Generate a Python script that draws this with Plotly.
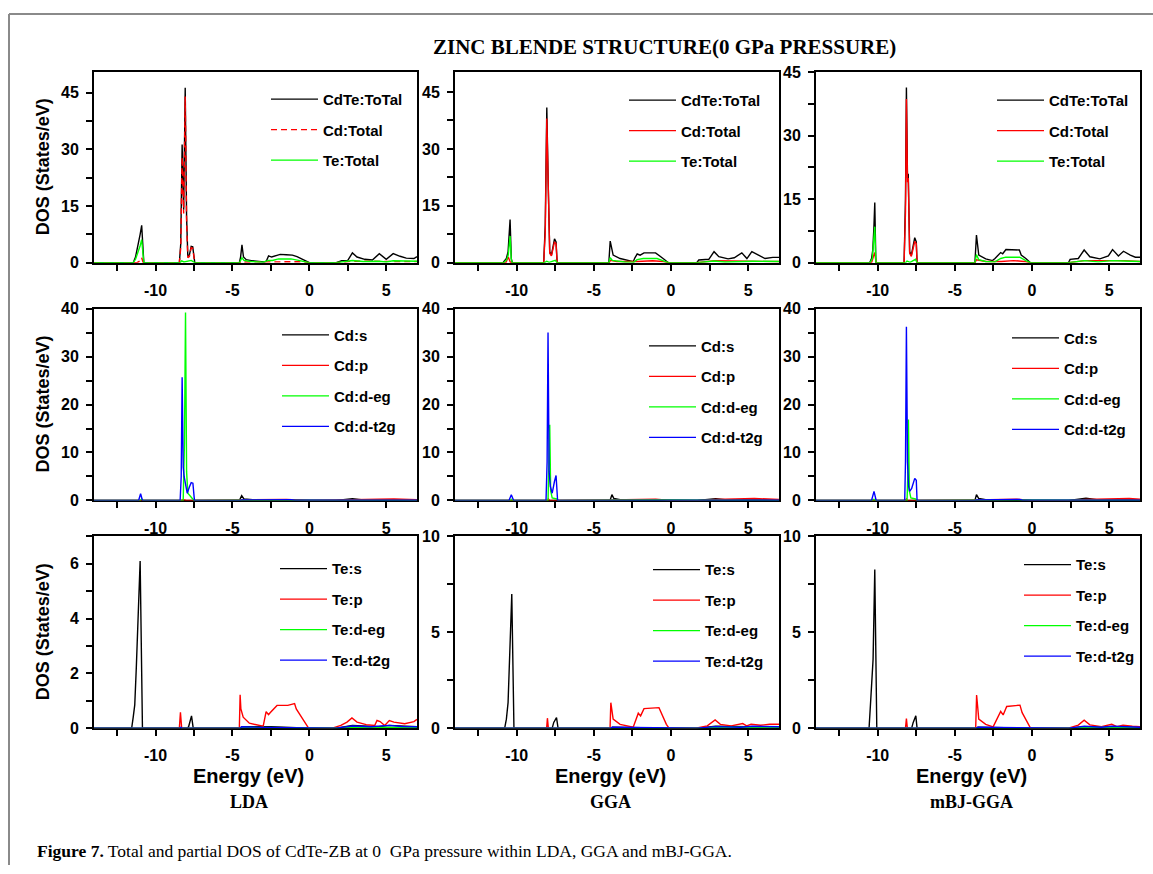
import plotly.graph_objects as go

# ---------------- data: (energy eV, DOS states/eV) ----------------
# LDA
LDA_TOT = [(-14, 0), (-11.45, 0), (-11.3, 1.5), (-11.15, 4.2), (-11.0, 7.5), (-10.9, 9.9), (-10.83, 2.5), (-10.76, 0),
           (-8.45, 0), (-8.36, 5), (-8.27, 31.3), (-8.17, 14), (-8.07, 46.3), (-7.98, 12), (-7.9, 1.7), (-7.8, 2.0),
           (-7.68, 4.3), (-7.58, 4.2), (-7.45, 0), (-4.55, 0), (-4.47, 1.5), (-4.38, 4.7), (-4.28, 1.5), (-4.1, 0.8),
           (-3.7, 0.5), (-3.2, 0.4), (-2.95, 0.2), (-2.8, 0.4), (-2.65, 1.8), (-2.45, 1.5), (-2.2, 1.9), (-1.9, 2.2),
           (-1.5, 2.1), (-1.1, 2.0), (-0.8, 1.6), (-0.5, 1.0), (-0.2, 0.3), (0, 0), (1.75, 0), (2.1, 0.5), (2.5, 0.6),
           (2.8, 2.6), (3.1, 1.5), (3.6, 0.9), (4.1, 0.7), (4.55, 2.4), (5.0, 0.9), (5.45, 2.4), (5.9, 1.7), (6.3, 1.2),
           (6.8, 1.1), (7.0, 1.6)]
LDA_CD = [(-14, 0), (-11.2, 0), (-11.0, 0.5), (-10.9, 1.3), (-10.8, 0), (-8.45, 0), (-8.36, 4), (-8.27, 28),
          (-8.17, 13), (-8.07, 44), (-7.98, 11), (-7.9, 1.3), (-7.8, 1.6), (-7.68, 4.0), (-7.58, 3.8), (-7.45, 0),
          (-4.5, 0), (-4.38, 0.4), (-4.2, 0.2), (-2.7, 0.15), (-1.5, 0.3), (-0.5, 0.25), (0, 0), (1.75, 0), (2.8, 0.4),
          (4.5, 0.3), (5.45, 0.4), (7.0, 0.3)]
LDA_TE = [(-14, 0), (-11.45, 0), (-11.3, 0.9), (-11.15, 2.5), (-11.0, 4.5), (-10.9, 6.1), (-10.83, 1.5), (-10.76, 0),
          (-8.4, 0), (-8.3, 0.5), (-8.15, 0.2), (-7.68, 0.6), (-7.45, 0), (-4.55, 0), (-4.38, 1.3), (-4.25, 0.6),
          (-3.8, 0.3), (-3.0, 0.15), (-2.65, 0.6), (-2.4, 0.6), (-2.0, 1.0), (-1.2, 1.0), (-0.7, 0.6), (-0.2, 0.1),
          (0, 0), (1.75, 0), (2.8, 0.6), (3.5, 0.3), (4.55, 0.4), (5.0, 0.2), (5.45, 0.5), (7.0, 0.4)]
LDA_CD_S = [(-14, 0), (-11.0, 0), (-10.9, 0.15), (-10.8, 0), (-4.55, 0), (-4.4, 1.0), (-4.25, 0.3), (-3.5, 0.1),
            (-0.5, 0.05), (0, 0), (1.75, 0), (2.8, 0.35), (3.5, 0.1), (7.0, 0.1)]
LDA_CD_P = [(-14, 0), (-8.3, 0), (-8.2, 0.2), (-8.0, 0), (-4.4, 0.1), (-2.7, 0.1), (-1.5, 0.2), (0, 0), (1.75, 0),
            (2.8, 0.15), (4.5, 0.25), (5.5, 0.3), (7.0, 0.15)]
LDA_CD_EG = [(-14, 0), (-11.0, 0), (-10.9, 0.3), (-10.8, 0), (-8.2, 0), (-8.12, 12), (-8.05, 39.2), (-7.98, 6),
             (-7.9, 1.5), (-7.7, 0.8), (-7.5, 0), (-4.4, 0.05), (7.0, 0)]
LDA_CD_T2G = [(-14, 0), (-11.1, 0), (-10.97, 1.4), (-10.85, 0), (-8.4, 0), (-8.33, 5), (-8.27, 25.7), (-8.2, 7),
              (-8.14, 5.0), (-8.05, 3), (-7.94, 1.5), (-7.8, 2.8), (-7.68, 3.7), (-7.57, 3.6), (-7.47, 0), (-4.5, 0),
              (-4.4, 0.1), (-1.2, 0.15), (-0.9, 0.05), (7.0, 0.05)]
LDA_TE_S = [(-14, 0), (-11.55, 0), (-11.45, 0.4), (-11.35, 0.85), (-11.25, 2.2), (-11.0, 6.1), (-10.85, 0),
            (-7.95, 0), (-7.85, 0.05), (-7.75, 0.25), (-7.66, 0.45), (-7.55, 0), (-4.5, 0), (-4.4, 0.05),
            (-2.5, 0.05), (0, 0), (1.75, 0), (2.8, 0.1), (4.5, 0.05), (5.2, 0.1), (7.0, 0.05)]
LDA_TE_P = [(-14, 0), (-8.45, 0), (-8.38, 0.58), (-8.3, 0), (-4.55, 0), (-4.5, 1.22), (-4.45, 0.7), (-4.3, 0.4),
            (-3.9, 0.18), (-3.0, 0.07), (-2.81, 0.6), (-2.65, 0.49), (-2.55, 0.56), (-2.1, 0.83), (-1.4, 0.83),
            (-0.96, 0.9), (-0.85, 0.7), (-0.52, 0.4), (-0.2, 0.16), (-0.05, 0), (1.5, 0), (2.05, 0.1), (2.45, 0.22),
            (2.77, 0.37), (3.1, 0.22), (3.7, 0.13), (4.25, 0.1), (4.4, 0.28), (4.6, 0.24), (4.9, 0.1), (5.2, 0.28),
            (5.5, 0.22), (6.2, 0.16), (6.8, 0.24), (7.0, 0.32)]
LDA_TE_EG = [(-14, 0), (-4.5, 0), (-4.4, 0.03), (0, 0), (1.75, 0), (2.8, 0.04), (5.0, 0.03), (7.0, 0.02)]
LDA_TE_T2G = [(-14, 0), (-8.4, 0), (-8.35, 0.03), (-8.3, 0), (-4.5, 0), (-4.4, 0.05), (-3.0, 0.03), (0, 0),
              (1.75, 0), (2.8, 0.08), (4.0, 0.05), (5.2, 0.1), (6.0, 0.06), (7.0, 0.05)]

# GGA
GGA_TOT = [(-14, 0), (-10.89, 0), (-10.67, 1.1), (-10.56, 2.9), (-10.43, 11.4), (-10.35, 1.1), (-10.29, 0),
           (-8.25, 0), (-8.15, 10), (-8.05, 40.9), (-7.96, 21), (-7.86, 2.9), (-7.75, 2.0), (-7.55, 6.3),
           (-7.45, 5.5), (-7.38, 0), (-4.03, 0), (-3.94, 5.7), (-3.75, 2.0), (-3.3, 1.1), (-2.65, 0.5),
           (-2.45, 0.26), (-2.34, 1.3), (-2.19, 2.3), (-2.0, 2.0), (-1.75, 2.6), (-1.0, 2.6), (-0.78, 2.0),
           (-0.45, 0.9), (-0.17, 0), (1.67, 0), (1.8, 0.7), (2.45, 0.9), (2.79, 2.9), (3.1, 1.6), (3.7, 1.0),
           (4.1, 1.3), (4.59, 2.6), (4.92, 1.1), (5.24, 2.9), (5.7, 2.0), (6.1, 1.1), (6.6, 1.4), (7.0, 1.4)]
GGA_CD = [(-14, 0), (-10.7, 0), (-10.55, 1.5), (-10.4, 0), (-8.25, 0), (-8.15, 8), (-8.05, 38), (-7.96, 19),
          (-7.86, 2.5), (-7.75, 1.8), (-7.55, 5.5), (-7.45, 5.0), (-7.38, 0), (-4.0, 0), (-3.94, 0.6), (-3.5, 0.3),
          (-2.2, 0.3), (-1.2, 0.5), (-0.5, 0.3), (-0.15, 0), (1.67, 0), (2.8, 0.5), (4.6, 0.4), (5.3, 0.5), (7.0, 0.3)]
GGA_TE = [(-14, 0), (-10.85, 0), (-10.65, 0.8), (-10.55, 2.0), (-10.43, 7.0), (-10.35, 0.8), (-10.29, 0),
          (-8.2, 0), (-8.05, 0.4), (-7.9, 0.1), (-7.5, 0.6), (-7.38, 0), (-4.03, 0), (-3.94, 1.3), (-3.8, 0.6),
          (-3.0, 0.2), (-2.4, 0.15), (-2.2, 0.8), (-1.8, 1.1), (-0.9, 1.1), (-0.5, 0.5), (-0.15, 0), (1.67, 0),
          (2.8, 0.45), (3.5, 0.2), (4.6, 0.3), (5.3, 0.4), (7.0, 0.3)]
GGA_CD_S = [(-14, 0), (-10.5, 0), (-10.4, 0.15), (-10.3, 0), (-3.95, 0), (-3.83, 1.2), (-3.7, 0.4), (-3.3, 0.15),
            (-0.5, 0.05), (0, 0), (1.7, 0), (2.9, 0.35), (3.5, 0.15), (7.0, 0.1)]
GGA_CD_P = [(-14, 0), (-8.0, 0), (-7.95, 0.3), (-7.85, 0), (-3.9, 0.1), (-2.3, 0.15), (-1.0, 0.25), (0, 0),
            (1.7, 0), (2.9, 0.2), (4.6, 0.3), (5.4, 0.4), (7.0, 0.2)]
GGA_CD_EG = [(-14, 0), (-10.4, 0), (-10.35, 0.2), (-10.3, 0), (-7.97, 0), (-7.92, 6), (-7.86, 15.8), (-7.8, 2),
             (-7.7, 0.5), (-7.4, 0.3), (-7.3, 0), (-0.9, 0.1), (7.0, 0)]
GGA_CD_T2G = [(-14, 0), (-10.5, 0), (-10.35, 1.2), (-10.2, 0), (-8.1, 0), (-8.03, 8), (-7.97, 35.0), (-7.9, 6),
              (-7.82, 2.9), (-7.7, 1.5), (-7.55, 4.0), (-7.45, 5.2), (-7.35, 0), (-3.9, 0), (-3.83, 0.1),
              (-0.9, 0.15), (7.0, 0.05)]
GGA_TE_S = [(-14, 0), (-10.78, 0), (-10.67, 0.47), (-10.56, 1.33), (-10.32, 7.0), (-10.18, 0), (-7.7, 0),
            (-7.6, 0.3), (-7.42, 0.55), (-7.32, 0), (-3.9, 0), (-3.8, 0.05), (0, 0), (1.7, 0), (2.9, 0.1), (7.0, 0.05)]
GGA_TE_P = [(-14, 0), (-8.06, 0), (-8.01, 0.52), (-7.95, 0), (-3.95, 0), (-3.9, 1.33), (-3.75, 0.47), (-3.3, 0.2),
            (-2.45, 0.05), (-2.12, 0.78), (-1.97, 0.64), (-1.75, 1.02), (-0.78, 1.07), (-0.55, 0.64), (-0.3, 0.2),
            (-0.13, 0), (1.6, 0), (2.35, 0.12), (2.86, 0.43), (3.2, 0.2), (3.9, 0.12), (4.65, 0.24), (4.9, 0.12),
            (5.19, 0.2), (5.8, 0.15), (6.4, 0.2), (7.0, 0.2)]
GGA_TE_EG = [(-14, 0), (-3.9, 0), (-3.8, 0.03), (0, 0), (1.7, 0), (2.9, 0.05), (7.0, 0.05)]
GGA_TE_T2G = [(-14, 0), (-3.9, 0), (-3.8, 0.05), (0, 0), (1.7, 0), (2.9, 0.08), (4.5, 0.05), (5.3, 0.1), (7.0, 0.07)]

# mBJ-GGA
MBJ_TOT = [(-14, 0), (-10.52, 0), (-10.4, 1.0), (-10.32, 3), (-10.25, 8.1), (-10.19, 14.2), (-10.12, 0),
           (-8.29, 0), (-8.2, 15), (-8.14, 41.3), (-8.07, 20), (-8.02, 21), (-7.93, 2.6), (-7.82, 1.8), (-7.6, 5.9),
           (-7.5, 4.9), (-7.45, 0), (-3.7, 0), (-3.6, 6.5), (-3.45, 1.8), (-3.0, 0.9), (-2.56, 0.5), (-2.4, 1.0),
           (-2.03, 2.4), (-1.9, 2.1), (-1.69, 3.1), (-0.82, 3.0), (-0.7, 1.8), (-0.4, 1.0), (-0.1, 0), (2.36, 0),
           (2.47, 0.8), (3.0, 1.0), (3.38, 3.0), (3.75, 1.4), (4.4, 0.9), (4.95, 1.6), (5.22, 3.1), (5.6, 1.6),
           (5.93, 2.7), (6.37, 1.8), (6.7, 1.3), (7.0, 1.3)]
MBJ_CD = [(-14, 0), (-10.4, 0), (-10.2, 2.4), (-10.1, 0), (-8.29, 0), (-8.2, 12), (-8.14, 38.6), (-8.07, 19),
          (-8.02, 20), (-7.93, 2.2), (-7.82, 1.5), (-7.6, 5.0), (-7.5, 4.5), (-7.45, 0), (-3.7, 0), (-3.6, 0.7),
          (-3.0, 0.3), (-2.0, 0.3), (-1.2, 0.5), (-0.5, 0.3), (-0.1, 0), (2.36, 0), (3.4, 0.5), (5.2, 0.5),
          (6.0, 0.5), (7.0, 0.3)]
MBJ_TE = [(-14, 0), (-10.5, 0), (-10.35, 1.0), (-10.25, 5), (-10.19, 8.5), (-10.12, 0), (-8.2, 0), (-8.1, 0.4),
          (-7.9, 0.1), (-7.55, 0.8), (-7.45, 0), (-3.7, 0), (-3.6, 1.9), (-3.45, 0.7), (-3.0, 0.3), (-2.4, 0.2),
          (-2.03, 1.0), (-1.7, 1.3), (-0.8, 1.3), (-0.4, 0.5), (-0.1, 0), (2.36, 0), (3.4, 0.5), (4.3, 0.2),
          (5.2, 0.5), (5.9, 0.4), (7.0, 0.3)]
MBJ_CD_S = [(-14, 0), (-10.35, 0), (-10.24, 0.2), (-10.1, 0), (-3.7, 0), (-3.6, 1.2), (-3.45, 0.4), (-3.0, 0.15),
            (-0.5, 0.05), (0, 0), (2.4, 0), (3.5, 0.45), (4.2, 0.15), (7.0, 0.1)]
MBJ_CD_P = [(-14, 0), (-8.2, 0), (-8.14, 0.3), (-8.05, 0), (-3.6, 0.1), (-2.0, 0.15), (-1.0, 0.25), (0, 0),
            (2.4, 0), (3.5, 0.2), (5.5, 0.35), (6.3, 0.4), (7.0, 0.25)]
MBJ_CD_EG = [(-14, 0), (-10.3, 0), (-10.24, 0.2), (-10.15, 0), (-8.1, 0), (-8.05, 5), (-8.01, 16.9), (-7.95, 2),
             (-7.85, 0.5), (-7.55, 0.3), (-7.45, 0), (-0.8, 0.1), (7.0, 0)]
MBJ_CD_T2G = [(-14, 0), (-10.4, 0), (-10.24, 1.9), (-10.1, 0), (-8.25, 0), (-8.2, 8), (-8.14, 36.2), (-8.07, 8),
              (-8.0, 3), (-7.93, 1.9), (-7.8, 2.5), (-7.6, 4.6), (-7.5, 4.2), (-7.45, 0), (-3.7, 0), (-3.6, 0.1),
              (-0.8, 0.2), (-0.6, 0.05), (7.0, 0.05)]
MBJ_TE_S = [(-14, 0), (-10.56, 0), (-10.45, 1.5), (-10.3, 3.6), (-10.19, 8.27), (-10.06, 0), (-7.8, 0),
            (-7.7, 0.3), (-7.53, 0.64), (-7.45, 0), (-3.6, 0), (-3.5, 0.05), (0, 0), (2.4, 0), (3.4, 0.08), (7.0, 0.05)]
MBJ_TE_P = [(-14, 0), (-8.2, 0), (-8.14, 0.5), (-8.08, 0), (-3.65, 0), (-3.59, 1.73), (-3.45, 0.47), (-3.0, 0.2),
            (-2.52, 0.07), (-2.03, 0.87), (-1.87, 0.69), (-1.64, 1.13), (-0.78, 1.2), (-0.64, 0.81), (-0.35, 0.38),
            (-0.1, 0), (2.36, 0), (3.0, 0.16), (3.38, 0.42), (3.75, 0.17), (4.5, 0.08), (5.17, 0.2), (5.5, 0.08),
            (5.9, 0.16), (6.5, 0.1), (7.0, 0.08)]
MBJ_TE_EG = [(-14, 0), (-3.6, 0), (-3.5, 0.03), (0, 0), (2.4, 0), (3.4, 0.05), (5.5, 0.05), (7.0, 0.02)]
MBJ_TE_T2G = [(-14, 0), (-3.6, 0), (-3.5, 0.05), (0, 0), (2.4, 0), (3.4, 0.1), (4.5, 0.05), (5.2, 0.1),
              (6.0, 0.08), (7.0, 0.05)]

TOTAL_NAMES = ["CdTe:ToTal", "Cd:Total", "Te:Total"]
CD_NAMES = ["Cd:s", "Cd:p", "Cd:d-eg", "Cd:d-t2g"]
TE_NAMES = ["Te:s", "Te:p", "Te:d-eg", "Te:d-t2g"]
METHODS = ["LDA", "GGA", "mBJ-GGA"]

X_RANGE = [-14, 7]
X_TICKS = [-10, -5, 0, 5]
X_TICK_TEXT = ["-10", "-5", "0", "5"]
ROW1_YTICKS = [0, 15, 30, 45]
ROW2_YTICKS = [0, 10, 20, 30, 40]
ROW3_LDA_YTICKS = [0, 2, 4, 6]
ROW3_YTICKS = [0, 5, 10]

# ---------------- layout helpers ----------------
W, H = 1153, 874
BLACK, RED, GREEN, BLUE = "#000000", "#ff0000", "#00ff00", "#0000ff"
SANS = "Liberation Sans, Arial, sans-serif"
SERIF = "Liberation Serif, Times New Roman, serif"

COLS = [(94, 417), (455, 779), (816, 1140)]
ROWS = [(72, 263), (309, 501), (537, 729)]

# vertical calibration of the rendered page (measured on the previous render)
Y_OFF, Y_SPAN = 8.0, 858.0


def fx(p):
    return p / W


def fy(p):
    return 1 - (p - Y_OFF) / Y_SPAN


TOTAL_COLORS = [BLACK, RED, GREEN]
PART_COLORS = [BLACK, RED, GREEN, BLUE]

panels = [
    # row 1: totals
    dict(curves=list(zip(TOTAL_NAMES, [LDA_TOT, LDA_CD, LDA_TE], TOTAL_COLORS, ["solid", "6px,4px", "solid"])),
         yr=[0, 50.5], yt=ROW1_YTICKS, ym=7.5, leg=(272, 100)),
    dict(curves=list(zip(TOTAL_NAMES, [GGA_TOT, GGA_CD, GGA_TE], TOTAL_COLORS, ["solid"] * 3)),
         yr=[0, 50.3], yt=ROW1_YTICKS, ym=7.5, leg=(630, 101)),
    dict(curves=list(zip(TOTAL_NAMES, [MBJ_TOT, MBJ_CD, MBJ_TE], TOTAL_COLORS, ["solid"] * 3)),
         yr=[0, 45], yt=ROW1_YTICKS, ym=7.5, leg=(998, 101)),
    # row 2: Cd partials
    dict(curves=list(zip(CD_NAMES, [LDA_CD_S, LDA_CD_P, LDA_CD_EG, LDA_CD_T2G], PART_COLORS, ["solid"] * 4)),
         yr=[0, 40], yt=ROW2_YTICKS, ym=5, leg=(283, 336)),
    dict(curves=list(zip(CD_NAMES, [GGA_CD_S, GGA_CD_P, GGA_CD_EG, GGA_CD_T2G], PART_COLORS, ["solid"] * 4)),
         yr=[0, 40], yt=ROW2_YTICKS, ym=5, leg=(650, 347)),
    dict(curves=list(zip(CD_NAMES, [MBJ_CD_S, MBJ_CD_P, MBJ_CD_EG, MBJ_CD_T2G], PART_COLORS, ["solid"] * 4)),
         yr=[0, 40], yt=ROW2_YTICKS, ym=5, leg=(1013, 339)),
    # row 3: Te partials
    dict(curves=list(zip(TE_NAMES, [LDA_TE_S, LDA_TE_P, LDA_TE_EG, LDA_TE_T2G], PART_COLORS, ["solid"] * 4)),
         yr=[0, 7], yt=ROW3_LDA_YTICKS, ym=1, leg=(281, 570)),
    dict(curves=list(zip(TE_NAMES, [GGA_TE_S, GGA_TE_P, GGA_TE_EG, GGA_TE_T2G], PART_COLORS, ["solid"] * 4)),
         yr=[0, 10], yt=ROW3_YTICKS, ym=2.5, leg=(654, 571)),
    dict(curves=list(zip(TE_NAMES, [MBJ_TE_S, MBJ_TE_P, MBJ_TE_EG, MBJ_TE_T2G], PART_COLORS, ["solid"] * 4)),
         yr=[0, 10], yt=ROW3_YTICKS, ym=2.5, leg=(1025, 566)),
]

TICK_FONT = dict(family=SANS, size=16, color="black", weight="bold")
LEG_FONT = dict(family=SANS, size=15, color="black", weight="bold")
LEG_DX = 6      # legend box left -> start of sample line
LEG_DY = 17     # legend box top -> centre of first entry

fig = go.Figure()
layout = {}

for i, p in enumerate(panels):
    k = i + 1
    r, c = divmod(i, 3)
    xs = "" if k == 1 else str(k)
    xid, yid = "x" + xs, "y" + xs
    legname = "legend" if k == 1 else f"legend{k}"

    for j, (name, data, color, dash) in enumerate(p["curves"]):
        fig.add_trace(go.Scatter(
            x=[d[0] for d in data], y=[d[1] for d in data], mode="lines", name=name,
            line=dict(color=color, width=1.4, dash=dash),
            xaxis=xid, yaxis=yid, legend=legname, legendgroup=f"g{k}_{j}", showlegend=True,
        ))

    common = dict(showgrid=False, zeroline=False, tickcolor="black", tickwidth=1.5, ticklen=6)
    xdom = [fx(COLS[c][0]), fx(COLS[c][1])]
    ydom = [fy(ROWS[r][1]), fy(ROWS[r][0])]

    layout["xaxis" + xs] = dict(
        domain=xdom, anchor=yid, range=X_RANGE, autorange=False,
        tickmode="array", tickvals=X_TICKS, ticktext=X_TICK_TEXT, ticks="outside",
        minor=dict(tickmode="linear", tick0=0, dtick=2.5, ticks="outside", ticklen=6, tickwidth=1.5,
                   tickcolor="black"),
        showline=True, linecolor="black", linewidth=2, mirror=True, tickfont=TICK_FONT,
        ticklabelstandoff=6, layer="below traces", **common)
    layout["yaxis" + xs] = dict(
        domain=ydom, anchor=xid, range=p["yr"], autorange=False,
        tickmode="array", tickvals=p["yt"], ticks="outside",
        minor=dict(tickmode="linear", tick0=0, dtick=p["ym"], ticks="outside", ticklen=6, tickwidth=1.5,
                   tickcolor="black"),
        showline=True, linecolor="black", linewidth=2, mirror=True, tickfont=TICK_FONT,
        ticklabelstandoff=4, layer="below traces", **common)
    # inward mirrored ticks on top and right
    layout[f"xaxis{9 + k}"] = dict(
        overlaying=xid, side="top", anchor=yid, range=X_RANGE, autorange=False,
        tickmode="array", tickvals=X_TICKS, ticks="inside", showticklabels=False, showline=False,
        minor=dict(tickmode="linear", tick0=0, dtick=2.5, ticks="inside", ticklen=6, tickwidth=1.5,
                   tickcolor="black"), **common)
    layout[f"yaxis{9 + k}"] = dict(
        overlaying=yid, side="right", anchor=xid, range=p["yr"], autorange=False,
        tickmode="array", tickvals=p["yt"], ticks="inside", showticklabels=False, showline=False,
        minor=dict(tickmode="linear", tick0=0, dtick=p["ym"], ticks="inside", ticklen=6, tickwidth=1.5,
                   tickcolor="black"), **common)

    lx, ly = p["leg"]
    layout[legname] = dict(
        x=fx(lx - LEG_DX), y=fy(ly - LEG_DY), xanchor="left", yanchor="top",
        bgcolor="rgba(0,0,0,0)", borderwidth=0, font=LEG_FONT, itemwidth=47,
        tracegroupgap=8, traceorder="grouped",
    )

fig.update_layout(**layout)

# ---------------- text ----------------
ann = []
ann.append(dict(text="<b>ZINC BLENDE STRUCTURE(0 GPa PRESSURE)</b>", x=fx(664), y=fy(47),
                font=dict(family=SERIF, size=21, color="black")))
for r in range(3):
    yc = (ROWS[r][0] + ROWS[r][1]) / 2
    ann.append(dict(text="<b>DOS (States/eV)</b>", x=fx(43), y=fy(yc), textangle=-90,
                    font=dict(family=SANS, size=18, color="black")))
for c, m in enumerate(METHODS):
    xc = (COLS[c][0] + COLS[c][1]) / 2 - 7
    ann.append(dict(text="<b>Energy (eV)</b>", x=fx(xc), y=fy(777),
                    font=dict(family=SANS, size=20, color="black")))
    ann.append(dict(text=f"<b>{m}</b>", x=fx(xc), y=fy(803),
                    font=dict(family=SERIF, size=18, color="black")))
ann.append(dict(text="<b>Figure 7.</b> Total and partial DOS of CdTe-ZB at 0  GPa pressure within LDA, GGA and mBJ-GGA.",
                x=fx(35), y=fy(852), xanchor="left",
                font=dict(family=SERIF, size=17.5, color="black")))
for a in ann:
    a.update(xref="paper", yref="paper", showarrow=False)
    a.setdefault("xanchor", "center")
    a["yanchor"] = "middle"

fig.update_layout(
    width=W, height=H, margin=dict(l=0, r=0, t=0, b=0),
    paper_bgcolor="white", plot_bgcolor="white",
    annotations=ann,
    shapes=[
        dict(type="line", xref="paper", yref="paper", x0=fx(9), x1=1, y0=fy(14), y1=fy(14),
             line=dict(color="#8a8a8a", width=2)),
        dict(type="line", xref="paper", yref="paper", x0=fx(9), x1=fx(9), y0=fy(14), y1=0,
             line=dict(color="#8a8a8a", width=2)),
    ],
)

fig.write_html("out.html")
